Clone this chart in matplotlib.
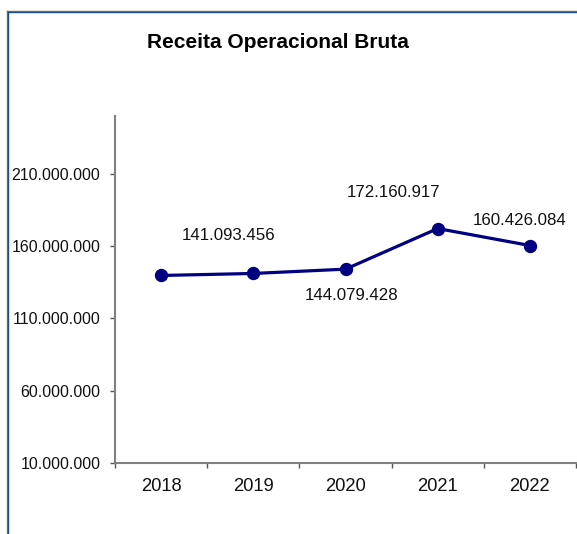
import matplotlib
matplotlib.use("Agg")
import matplotlib.pyplot as plt
from matplotlib.lines import Line2D
from matplotlib.ticker import FixedLocator, FuncFormatter

plt.rcParams['font.family'] = ['Liberation Sans', 'DejaVu Sans']

years = ["2018", "2019", "2020", "2021", "2022"]
values = [139_700_000, 141_093_456, 144_079_428, 172_160_917, 160_426_084]
labels = ["", "141.093.456", "144.079.428", "172.160.917", "160.426.084"]
label_offsets = [(0, 0), (-25, 38), (6, -26), (-44, 36), (-10, 25)]  # pixels
yticks = [10_000_000, 60_000_000, 110_000_000, 160_000_000, 210_000_000]

W, H, DPI = 577, 534, 100
fig = plt.figure(figsize=(W / DPI, H / DPI), dpi=DPI)
fig.patch.set_facecolor("white")

ax = fig.add_axes([115 / W, (H - 463) / H, (576 - 115) / W, (463 - 116) / H])
x = list(range(len(years)))
ax.plot(x, values, color="#000080", lw=2.3, marker="o", markersize=8.6,
        markerfacecolor="#000080", markeredgecolor="#000080", zorder=3)

for xi, v, lab, off in zip(x, values, labels, label_offsets):
    if lab:
        ax.annotate(lab, (xi, v), xytext=off, textcoords="offset pixels",
                    ha="center", va="center", fontsize=12.2, color="#111111")

ax.set_xlim(-0.5, len(years) - 0.5)
ax.set_ylim(10_000_000, 250_000_000)

ax.xaxis.set_major_locator(FixedLocator([i - 0.5 for i in range(len(years) + 1)]))
ax.xaxis.set_major_formatter(FuncFormatter(lambda v, p: ""))
ax.xaxis.set_minor_locator(FixedLocator(x))
ax.xaxis.set_minor_formatter(FuncFormatter(lambda v, p: years[int(round(v))]))
ax.tick_params(axis="x", which="major", direction="out", length=3.6, width=1.0, color="#555555")
ax.tick_params(axis="x", which="minor", length=0, pad=10.5, labelsize=13.2, labelcolor="#111111")

ax.set_yticks(yticks)
ax.yaxis.set_major_formatter(FuncFormatter(lambda v, p: f"{int(v):,}".replace(",", ".")))
ax.tick_params(axis="y", direction="out", length=3.6, width=1.0, color="#555555", pad=7,
               labelsize=11.5, labelcolor="#111111")

for s in ["top", "right"]:
    ax.spines[s].set_visible(False)
for s in ["left", "bottom"]:
    ax.spines[s].set_color("#808080")
    ax.spines[s].set_linewidth(1.5)

fig.text(278 / W, 1 - 43 / H, "Receita Operacional Bruta", ha="center", va="center",
         fontsize=15, fontweight="bold")

# outer frame (double line: green outside, blue inside)
def fx(px):
    return px / W
def fy(py):
    return 1 - py / H
fig.add_artist(Line2D([fx(7), fx(7)], [fy(11), 0], color="#6b7f3a", lw=1.0, transform=fig.transFigure))
fig.add_artist(Line2D([fx(7), 1], [fy(11), fy(11)], color="#6b7f3a", lw=1.0, transform=fig.transFigure))
fig.add_artist(Line2D([fx(8.3), fx(8.3)], [fy(12.3), 0], color="#1f4e8c", lw=1.0, transform=fig.transFigure))
fig.add_artist(Line2D([fx(8.3), 1], [fy(12.3), fy(12.3)], color="#1f4e8c", lw=1.0, transform=fig.transFigure))

fig.savefig("out.png", dpi=DPI)
